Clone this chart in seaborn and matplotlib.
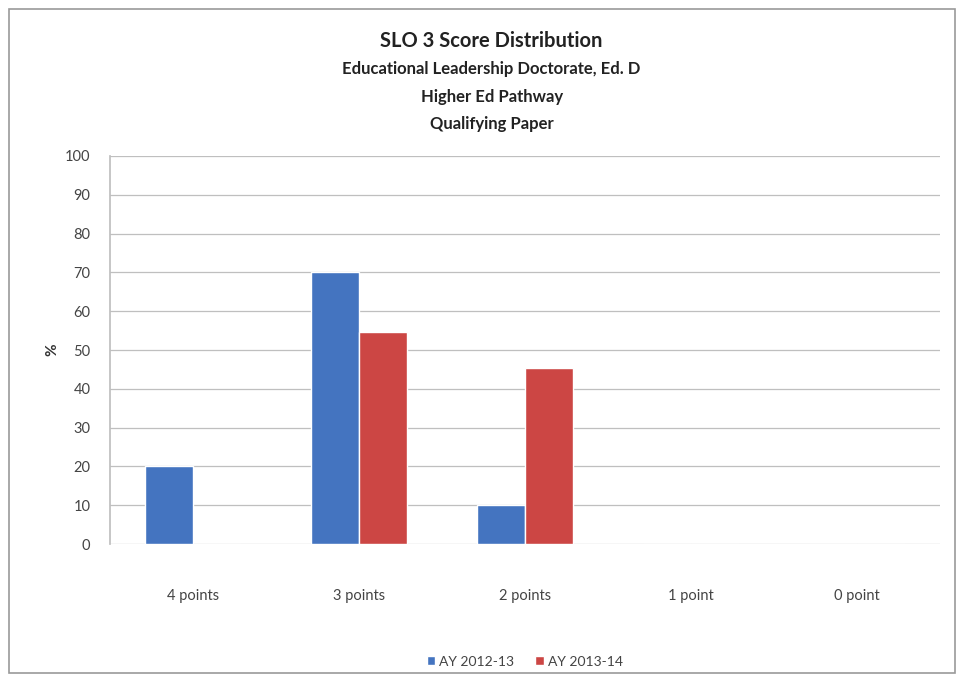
import pandas as pd
import seaborn as sns
import matplotlib.pyplot as plt
from matplotlib.patches import Rectangle

categories = ['4 points', '3 points', '2 points', '1 point', '0 point']
series_names = ['AY 2012-13', 'AY 2013-14']
ay_2012_13 = [20, 70, 10, 0, 0]
ay_2013_14 = [0, 54.55, 45.45, 0, 0]
y_ticks = list(range(0, 101, 10))

rows = []
for cat, a, b in zip(categories, ay_2012_13, ay_2013_14):
    rows.append({'score': cat, 'year': series_names[0], 'pct': a})
    rows.append({'score': cat, 'year': series_names[1], 'pct': b})
d = pd.DataFrame(rows)

sns.set_theme(style='white')
plt.rcParams['font.family'] = ['Lato', 'DejaVu Sans']

fig = plt.figure(figsize=(9.64, 6.81), dpi=100)
ax = fig.add_axes([0.114, 0.201, 0.861, 0.570])

colors = {'AY 2012-13': '#4474c0', 'AY 2013-14': '#cc4644'}
sns.barplot(data=d, x='score', y='pct', hue='year', palette=colors,
            order=categories, hue_order=series_names, width=0.58,
            saturation=1, ax=ax, legend=True)

ax.set_ylim(0, 100)
ax.set_xlim(-0.5, 4.5)
ax.set_yticks(y_ticks)
ax.set_yticklabels([str(t) for t in y_ticks], color='#444444', fontsize=10.5)
ax.tick_params(axis='x', colors='#444444', labelsize=10.5, pad=32, length=0)
ax.tick_params(axis='y', length=0, pad=14)
ax.yaxis.grid(True, color='#bfbfbf', linewidth=0.9)
ax.set_axisbelow(True)
for s in ['top', 'right', 'bottom']:
    ax.spines[s].set_visible(False)
ax.spines['left'].set_color('#bfbfbf')
ax.set_xlabel('')
ax.set_ylabel('%', fontsize=11, fontweight='bold', color='#333333', labelpad=4)

leg = ax.legend(loc='upper center', bbox_to_anchor=(0.5, -0.255), ncol=2,
                frameon=False, fontsize=10, handlelength=0.6, handleheight=0.6,
                columnspacing=1.5, handletextpad=0.3)
for t in leg.get_texts():
    t.set_color('#444444')

fig.text(0.51, 0.94, 'SLO 3 Score Distribution', ha='center', va='center',
         fontsize=14.5, fontweight='bold', color='#222222')
fig.text(0.51, 0.899, 'Educational Leadership Doctorate, Ed. D', ha='center',
         va='center', fontsize=12, fontweight='bold', color='#222222')
fig.text(0.51, 0.857, 'Higher Ed Pathway', ha='center', va='center',
         fontsize=12, fontweight='bold', color='#222222')
fig.text(0.51, 0.818, 'Qualifying Paper', ha='center', va='center',
         fontsize=12, fontweight='bold', color='#222222')

fig.patches.append(Rectangle((0.009, 0.012), 0.982, 0.975, transform=fig.transFigure,
                             fill=False, edgecolor='#9a9a9a', linewidth=1.2))

fig.savefig('out.png', dpi=100)
